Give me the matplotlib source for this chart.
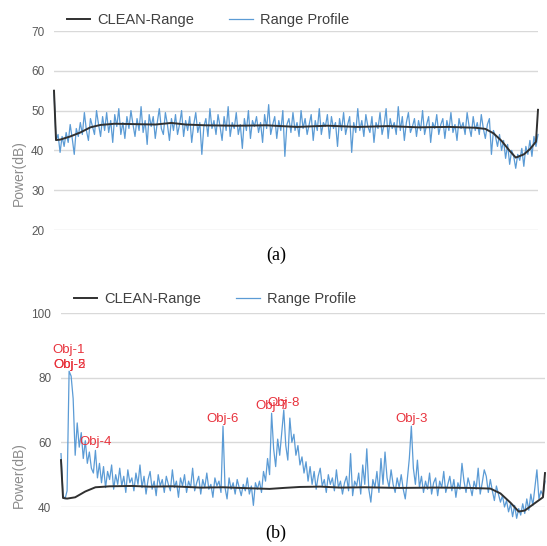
import matplotlib
matplotlib.use("Agg")
import matplotlib.pyplot as plt

plt.rcParams['font.family'] = ['Liberation Sans', 'DejaVu Sans']

# ---- panel (a): range profile without targets ----
profile_a = [
    55.0, 42.5, 44.0, 39.5, 43.5, 41.0, 44.5, 42.0, 46.5, 43.0, 39.0, 45.5, 43.5, 47.0, 44.0, 49.5, 45.0, 42.5, 48.0, 46.0,
    44.0, 50.0, 46.5, 43.5, 48.5, 45.0, 49.5, 44.5, 47.5, 42.0, 49.0, 46.0, 50.5, 44.0, 47.0, 43.0, 48.5, 45.5, 50.0, 46.5,
    43.5, 48.0, 45.0, 51.0, 44.5, 47.5, 41.5, 49.0, 46.0, 48.5, 43.0, 47.0, 50.5, 45.5, 44.0, 49.5, 46.5, 42.5, 48.0, 45.0,
    49.0, 44.0, 46.5, 50.0, 43.5, 47.5, 45.0, 48.5, 42.0, 46.5, 49.5, 44.5, 47.0, 39.0, 46.0, 48.0, 43.5, 50.5, 45.5, 47.5,
    44.0, 49.0, 46.0, 42.5, 48.5, 45.0, 51.0, 43.5, 47.0, 45.5, 49.5, 44.0, 46.5, 40.5, 48.0, 45.0, 50.0, 43.0, 47.5, 46.0,
    48.5, 44.5, 47.0, 42.0, 49.0, 45.5, 51.5, 44.0, 46.5, 48.5, 43.0, 47.5, 45.0, 50.0, 38.5, 46.5, 48.0, 44.5, 49.5, 45.0,
    47.0, 43.5, 50.0, 45.5, 48.0, 44.0, 46.5, 49.0, 42.5, 47.5, 45.0, 50.5, 44.0, 47.0, 46.0, 49.0, 43.0, 48.5, 45.5, 47.0,
    41.0, 48.0, 45.0, 49.5, 44.0, 46.5, 48.5, 39.5, 47.0, 44.5, 50.5, 45.0, 47.5, 43.5, 49.0, 46.0, 44.5, 48.5, 42.0, 47.0,
    45.5, 49.5, 44.0, 46.5, 50.5, 43.0, 48.0, 45.5, 47.0, 44.0, 51.0, 45.0, 48.5, 42.5, 47.0, 49.5, 44.5, 46.0, 48.0, 43.5,
    47.5, 45.0, 50.0, 44.0, 46.5, 48.5, 42.0, 47.0, 45.5, 49.0, 44.0, 46.5, 48.0, 43.0, 47.5, 45.0, 49.5, 44.5, 46.5, 42.5,
    48.0, 45.5, 47.0, 44.0, 49.5, 46.0, 43.5, 48.5, 45.0, 47.0, 44.0, 49.0, 45.5, 43.0, 46.5, 48.0, 39.0, 45.0, 43.5, 41.0,
    44.0, 40.0, 42.5, 38.0, 41.5, 36.5, 40.0, 38.5, 35.5, 39.0, 37.5, 40.5, 36.0, 41.0, 39.0, 42.5, 38.5, 43.5, 41.0, 44.0,
]
clean_a_idx = [0, 1, 3, 8, 13, 18, 23, 30, 40, 50, 58, 65, 75, 90, 105, 120, 135, 150, 165, 180,
               195, 208, 213, 217, 221, 225, 228, 232, 235, 238, 239]
clean_a_val = [55.0, 42.6, 42.7, 43.5, 44.5, 45.8, 46.4, 46.7, 46.6, 46.5, 46.9, 46.5, 46.3, 46.2, 46.3, 45.9,
               46.2, 45.9, 46.1, 45.8, 45.9, 45.7, 45.4, 44.3, 42.4, 39.9, 38.2, 39.0, 40.3, 42.2, 50.2]

# ---- panel (b): range profile with targets ----
profile_b = [
    56.5, 43.5, 42.5, 45.0, 82.0, 80.5, 73.5, 56.0, 66.0, 58.5, 63.0, 55.0, 60.5, 53.5, 57.0, 52.0, 50.5, 57.5, 49.0, 53.5,
    47.5, 52.5, 46.0, 51.0, 48.5, 53.0, 45.5, 50.0, 47.0, 52.0, 46.5, 49.5, 44.5, 51.5, 47.5, 49.0, 45.0, 50.5, 47.0, 53.0,
    46.0, 49.5, 44.0, 48.5, 51.0, 45.5, 48.0, 43.5, 50.0, 46.5, 48.5, 44.5, 49.5, 47.0, 45.0, 51.5, 46.0, 48.0, 43.0, 49.0,
    46.5, 50.0, 44.5, 48.0, 46.0, 52.0, 45.0, 47.5, 49.5, 44.0, 48.5, 46.0, 50.5, 45.5, 47.0, 43.0, 49.0, 46.5, 48.0, 44.5,
    65.0, 46.0, 42.5, 49.0, 45.5, 47.5, 44.0, 48.5, 46.0, 43.5, 47.0, 45.0, 49.0, 44.0, 46.5, 40.5, 47.5, 45.5, 48.0, 44.5,
    51.0, 48.0, 55.0, 50.0, 69.0, 58.0, 52.5, 61.0, 56.0, 63.0, 70.0, 59.0, 54.5, 67.5, 60.0, 62.5, 56.0, 59.0, 53.0, 55.5,
    50.5, 54.0, 48.0, 52.5, 47.0, 51.0, 45.5, 49.5, 52.0, 46.5, 48.5, 44.5, 50.0, 47.0, 49.0, 45.0, 51.5, 46.0, 48.0, 44.0,
    47.5, 49.5, 45.0, 56.5, 43.5, 48.0, 46.5, 50.5, 44.0, 53.0, 47.0, 58.0, 45.5, 41.5, 48.5, 46.0, 51.0, 44.5, 55.0, 47.0,
    57.0, 49.0, 46.0, 51.5, 47.0, 44.5, 49.0, 46.0, 50.0, 45.5, 42.5, 48.5, 55.0, 65.0, 52.0, 47.0, 54.5, 46.0, 49.5, 44.5,
    48.0, 45.5, 50.5, 44.0, 47.5, 49.0, 43.5, 48.0, 46.0, 51.0, 44.5, 47.0, 49.5, 45.0, 48.5, 43.0, 47.5, 45.5, 53.5, 48.0,
    44.5, 49.0, 46.5, 43.5, 48.0, 45.5, 52.0, 44.0, 47.5, 51.5, 49.5, 44.5, 48.5, 45.0, 42.0, 46.5, 44.0, 41.5, 43.5, 40.0,
    42.0, 38.5, 41.0, 37.0, 40.5, 36.5, 39.5, 37.5, 41.0, 38.0, 42.5, 39.0, 44.0, 40.5, 46.0, 51.5, 42.5, 45.0, 43.5, 48.0,
]
clean_b_idx = [0, 1, 3, 7, 12, 17, 24, 35, 44, 55, 69, 80, 93, 103, 110, 118, 128, 138, 150, 167,
               185, 202, 212, 217, 222, 226, 229, 234, 238, 239]
clean_b_val = [54.5, 42.8, 42.6, 43.0, 44.8, 46.1, 46.4, 46.5, 46.3, 46.4, 46.0, 46.1, 45.8, 45.6, 45.9, 46.2,
               46.3, 46.0, 46.1, 45.9, 46.0, 45.9, 45.7, 44.2, 41.3, 38.6, 38.9, 41.2, 43.0, 50.5]

# target labels: (name, sample index, offset in points above the peak)
obj_names = ['Obj-2', 'Obj-5', 'Obj-1', 'Obj-4', 'Obj-6', 'Obj-7', 'Obj-8', 'Obj-3']
obj_idx = [4, 4, 4, 17, 80, 104, 110, 173]
obj_dy = [0, 0, 11, 2, 1, 1, 1, 1]

blue = '#5b9bd5'
dark = '#303030'
grid = '#d9d9d9'
red = '#e8323c'

fig = plt.figure(figsize=(5.47, 5.46), dpi=100)
ax1 = fig.add_axes([54 / 547, 1 - 230 / 546, 484 / 547, 199 / 546])
ax2 = fig.add_axes([61 / 547, 1 - 507 / 546, 484 / 547, 194 / 546])


def style(ax, lo, hi, step):
    ax.set_ylim(lo, hi)
    ax.set_yticks(range(lo, hi + 1, step))
    ax.set_xlim(0, 239)
    ax.set_xticks([])
    for s in ax.spines.values():
        s.set_visible(False)
    ax.yaxis.grid(True, color=grid, lw=1)
    ax.set_axisbelow(True)
    ax.tick_params(axis='y', length=0, pad=7, labelsize=8.5, labelcolor='#595959')


for ax, prof, ci, cv in [(ax1, profile_a, clean_a_idx, clean_a_val),
                         (ax2, profile_b, clean_b_idx, clean_b_val)]:
    ax.plot(range(len(prof)), prof, color=blue, lw=0.9, label='Range Profile', clip_on=False, zorder=2)
    ax.plot(ci, cv, color=dark, lw=1.4, label='CLEAN-Range', clip_on=False, zorder=3)
    h, l = ax.get_legend_handles_labels()
    ax.legend(h[::-1], l[::-1], ncol=2, frameon=False, loc='center',
              bbox_to_anchor=(0.318, 1.055 if ax is ax1 else 1.072),
              fontsize=10.5, handlelength=1.6, handletextpad=0.5, columnspacing=2.4,
              labelcolor='#404040')

style(ax1, 20, 70, 10)
style(ax2, 40, 100, 20)

for name, i, dy in zip(obj_names, obj_idx, obj_dy):
    ax2.annotate(name, xy=(i, profile_b[i]), xytext=(0, dy), textcoords='offset points',
                 ha='center', va='bottom', color=red, fontsize=9.5)

fig.text(19 / 547, 1 - 173 / 546, 'Power(dB)', rotation=90, ha='center', va='center',
         color='#8c8c8c', fontsize=10)
fig.text(19 / 547, 1 - 475 / 546, 'Power(dB)', rotation=90, ha='center', va='center',
         color='#8c8c8c', fontsize=10)

fig.text(276 / 547, 1 - 255 / 546, '(a)', ha='center', va='center',
         family=['Liberation Serif', 'DejaVu Serif'], fontsize=13)
fig.text(276 / 547, 1 - 533 / 546, '(b)', ha='center', va='center',
         family=['Liberation Serif', 'DejaVu Serif'], fontsize=13)

fig.savefig('out.png', dpi=100)
